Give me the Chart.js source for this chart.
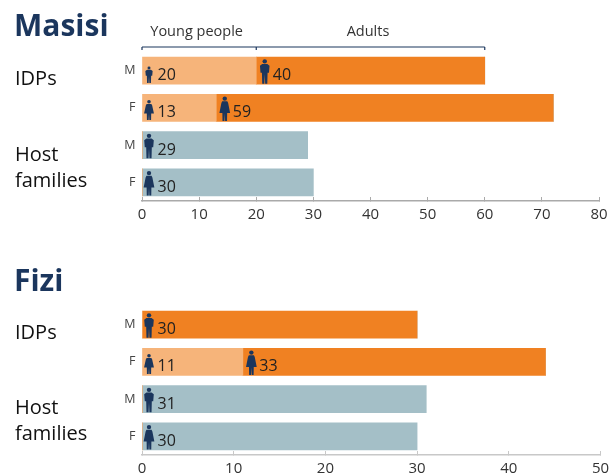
<!DOCTYPE html>
<html>
<head>
<meta charset="utf-8">
<title>Masisi and Fizi</title>
<script src="https://cdn.jsdelivr.net/npm/chart.js@4"></script>
<style>
html, body { margin: 0; padding: 0; background: #fff; }
body { width: 613px; height: 475px; position: relative; overflow: hidden; font-family: "Open Sans", sans-serif; }
.box { position: absolute; left: 0; width: 613px; }
.titulo { position: absolute; left: 14px; font-size: 30px; font-weight: 700; color: #1b365d; line-height: 40px; }
.grupo { position: absolute; left: 15px; font-size: 20px; color: #111; line-height: 26px; }
</style>
</head>
<body>
<div class="box" style="top:0;height:236px"><canvas id="graficoMasisi"></canvas></div>
<div class="box" style="top:236px;height:239px"><canvas id="graficoFizi"></canvas></div>

<div class="titulo" style="top:5px">Masisi</div>
<div class="grupo" style="top:65px">IDPs</div>
<div class="grupo" style="top:141px">Host<br>families</div>
<div class="titulo" style="top:260px">Fizi</div>
<div class="grupo" style="top:319px">IDPs</div>
<div class="grupo" style="top:394px">Host<br>families</div>

<script>
const categorias = ["M", "F", "M", "F"];

// Masisi
const masisiJovens = [20, 13, 0, 0];
const masisiAdultos = [40, 59, 0, 0];
const masisiHost = [0, 0, 29, 30];
const masisiTicks = [0, 10, 20, 30, 40, 50, 60, 70, 80];

// Fizi
const fiziJovens = [0, 11, 0, 0];
const fiziAdultos = [30, 33, 0, 0];
const fiziHost = [0, 0, 31, 30];
const fiziTicks = [0, 10, 20, 30, 40, 50];

// bracket over the first chart
const chaveLimites = [0, 20, 60];
const chaveTextos = ["Young people", "Adults"];

const LARANJA_CLARO = "#f6b47a";
const LARANJA = "#f08122";
const AZUL_CINZA = "#a4bfc7";
const AZUL = "#1b365d";

// silhouettes in units of the icon height, 0 = top of the body, 1 = feet
const corpoHomem = [[.17, .27], [.15, .56], [.10, .56], [.09, 1], [.015, 1], [0, .62], [-.015, 1], [-.09, 1], [-.10, .56], [-.15, .56], [-.17, .27]];
const corpoMulher = [[.12, .27], [.19, .68], [.085, .68], [.08, 1], [.012, 1], [0, .7], [-.012, 1], [-.08, 1], [-.085, .68], [-.19, .68], [-.12, .27]];

// === Person icons ===
function desenharPessoa(ctx, x, base, h, feminino, esticar) {
    const corpo = feminino ? corpoMulher : corpoHomem;
    ctx.save();
    ctx.translate(x, base - h);
    ctx.scale(h * esticar, h);
    ctx.fillStyle = AZUL;
    ctx.beginPath();
    ctx.ellipse(0, .09, .09 / esticar, .09, 0, 0, Math.PI * 2);
    ctx.fill();
    ctx.beginPath();
    ctx.moveTo(-.09, .2);
    ctx.lineTo(.09, .2);
    corpo.forEach(p => ctx.lineTo(p[0], p[1]));
    ctx.closePath();
    ctx.fill();
    ctx.restore();
}

const pessoasPlugin = {
    id: "pessoas",
    afterDatasetsDraw(chart) {
        const { ctx, scales } = chart;
        ctx.save();
        chart.data.datasets.forEach(ds => {
            const jovem = ds.label === "jovens";
            ds.data.forEach((valor, i) => {
                if (!valor) return;
                const inicio = ds.label === "adultos" ? (chart.data.datasets[0].data[i] || 0) : 0;
                const x0 = scales.x.getPixelForValue(inicio);
                const yc = scales.y.getPixelForValue(i);
                const feminino = categorias[i] === "F";
                const deslocIcon = inicio ? 8.5 : 7;
                if (jovem) {
                    desenharPessoa(ctx, x0 + deslocIcon, yc + (feminino ? 12 : 12.3), feminino ? 20 : 16.5, feminino, 1.3);
                } else {
                    desenharPessoa(ctx, x0 + deslocIcon, yc + 13, 24.5, feminino, 1.15);
                }
                ctx.fillStyle = "#222";
                ctx.font = "16px 'Open Sans'";
                ctx.textAlign = "left";
                ctx.textBaseline = "middle";
                ctx.fillText(String(valor), x0 + (inicio ? 16.5 : 15.5), yc + 5);
            });
        });
        ctx.restore();
    }
};

const chavePlugin = {
    id: "chave",
    afterDraw(chart, args, opts) {
        if (!opts.limites) return;
        const { ctx, scales } = chart;
        const y = 47;
        const xs = opts.limites.map(v => scales.x.getPixelForValue(v));
        ctx.save();
        ctx.strokeStyle = AZUL;
        ctx.lineWidth = 1.2;
        ctx.beginPath();
        ctx.moveTo(xs[0], y);
        ctx.lineTo(xs[xs.length - 1], y);
        xs.forEach(x => {
            ctx.moveTo(x, y);
            ctx.lineTo(x, y + 3);
        });
        ctx.stroke();
        ctx.fillStyle = "#333";
        ctx.font = "14.5px 'Open Sans'";
        ctx.textAlign = "center";
        ctx.textBaseline = "middle";
        opts.textos.forEach((t, i) => {
            ctx.fillText(t, (xs[i] + xs[i + 1]) / 2 - 2.5, 31.5);
        });
        ctx.restore();
    }
};

function criarGrafico(id, jovens, adultos, host, ticks, topo, direita, base, corEixo, chave) {
    return new Chart(document.getElementById(id).getContext("2d"), {
        type: "bar",
        data: {
            labels: categorias,
            datasets: [
                { label: "jovens", data: jovens, backgroundColor: LARANJA_CLARO },
                { label: "adultos", data: adultos, backgroundColor: LARANJA },
                { label: "host", data: host, backgroundColor: AZUL_CINZA }
            ]
        },
        options: {
            indexAxis: "y",
            responsive: true,
            maintainAspectRatio: false,
            animation: false,
            barThickness: 27,
            layout: { padding: { top: topo, right: direita, left: 0, bottom: 0 } },
            plugins: {
                legend: { display: false },
                tooltip: { enabled: false },
                chave: chave || {}
            },
            scales: {
                x: {
                    stacked: true,
                    min: 0,
                    max: ticks[ticks.length - 1],
                    afterFit(scale) {
                        scale.height = base;
                        scale.paddingLeft = 0;
                        scale.paddingRight = 0;
                    },
                    afterBuildTicks(scale) { scale.ticks = ticks.map(v => ({ value: v })); },
                    border: { color: corEixo, width: 1.5 },
                    // negative length: the ticks stand up from the axis line
                    grid: { drawOnChartArea: false, drawTicks: true, tickLength: -4, color: corEixo },
                    ticks: { color: "#333", font: { family: "Open Sans", size: 15 }, padding: 9, maxRotation: 0 }
                },
                y: {
                    stacked: true,
                    afterFit(scale) { scale.width = 142; },
                    border: { display: false },
                    grid: { display: false, drawTicks: false },
                    ticks: { color: "#444", font: { family: "Open Sans", size: 12.5 }, padding: 6.5 }
                }
            }
        },
        plugins: [pessoasPlugin, chavePlugin]
    });
}

criarGrafico("graficoMasisi", masisiJovens, masisiAdultos, masisiHost, masisiTicks, 52, 14, 35, "#aaaaaa",
    { limites: chaveLimites, textos: chaveTextos });
criarGrafico("graficoFizi", fiziJovens, fiziAdultos, fiziHost, fiziTicks, 70, 12.5, 20, "#c8c8c8");
</script>
</body>
</html>
